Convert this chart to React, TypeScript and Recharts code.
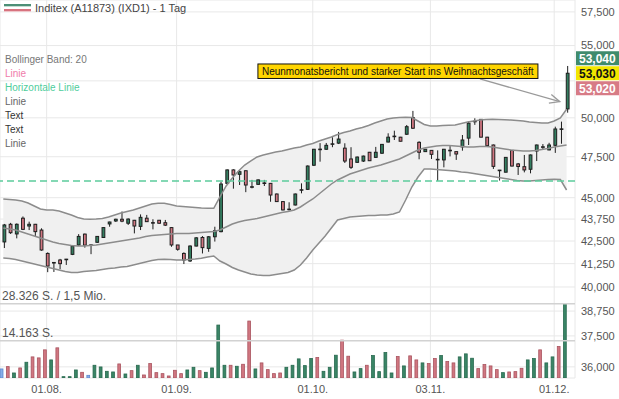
import {
  ComposedChart,
  XAxis,
  YAxis,
  CartesianGrid,
  Bar,
  Area,
  Line,
  ReferenceLine,
} from "recharts";

const FONT = "Arial, 'Liberation Sans', sans-serif";

const tickIdx = [7, 28, 50, 69, 89];
const tickLabels = ["01.08.", "01.09.", "01.10.", "03.11.", "01.12."];
const priceTicks = [57500, 55000, 52500, 50000, 47500, 45000, 43750, 42500, 41250, 40000, 38750, 37500, 36000];
const hiddenTicks = [52500];

const opens = [42450,43450,42900,43800,43350,43450,43120,41810,41290,41450,
  41420,41760,42280,42890,42270,42430,42700,43470,43640,43740,
  43510,43680,43330,43800,43510,43680,43540,43260,42280,41810,
  41400,42220,42700,42090,42740,43030,45860,46680,46410,46630,
  45640,45800,45870,45860,45220,44770,44300,44570,45440,45500,
  46970,47960,47970,48270,48360,48040,47360,47150,47230,47780,
  47460,47720,48430,48780,48740,48930,50010,48410,47820,47900,
  47320,47300,47890,47820,48120,48680,49740,49900,48740,48240,
  46650,46540,47900,47050,46880,46720,47860,48110,47930,48220,
  49260,50590];

const highs = [43470,43530,43500,43900,43600,43470,43220,41870,41310,41510,
  41510,42280,42890,42920,42310,42780,43280,43600,43770,44190,
  43790,43700,44020,43990,43740,43700,43700,43280,42280,41870,
  42260,42720,42780,42780,43310,45960,46710,46720,46680,46640,
  46070,46100,46070,45880,45250,44780,44730,45250,45860,46960,
  47990,48360,48370,48740,49080,48350,48100,47510,47570,47800,
  48120,48300,48990,49160,48760,49530,50460,48480,47990,47920,
  47900,47990,48170,47830,48880,49780,49970,49920,48760,48270,
  46680,47480,47920,47110,47610,47640,48270,48300,48380,49420,
  49750,53540];

const lows = [42110,42900,42650,43120,43120,42780,41960,40790,40800,40950,
  41180,41720,42220,42130,41770,42390,42670,43310,43580,43570,
  43410,42930,43120,43580,43160,43470,43350,42180,41960,41230,
  41340,42200,41810,41900,42470,42990,45820,45540,45760,45330,
  45560,45760,45700,44760,44750,44250,44250,44540,45260,45460,
  46920,47190,47930,48100,48300,47110,46740,47110,47170,47230,
  47420,47670,48400,48560,48470,48880,49270,47340,47800,47360,
  46010,46840,47520,47300,47880,48240,49540,48730,48180,46740,
  46030,46530,46890,46370,46530,46470,47230,47930,47900,47740,
  48320,50340];

const closes = [43410,42970,43450,43160,43450,43030,42000,41120,41300,41250,
  41480,42220,42760,42270,42270,42760,43260,43580,43740,43630,
  43750,43350,43850,43600,43530,43510,43400,42280,42040,41450,
  42220,42680,42130,42740,43080,45820,46680,46370,46570,45760,
  45600,46070,45850,45160,44770,44280,44310,45220,45460,46920,
  47970,47940,48220,48300,48620,47230,46840,47480,47540,47250,
  47780,48280,48740,48790,48480,49420,49320,47780,47970,47650,
  47300,47970,47870,47670,48560,49650,49760,48740,48200,46900,
  46630,47460,46920,46890,46680,47610,48240,48090,48240,49270,
  49240,53030];

const volumes = [3450,4340,1915,3830,6000,8040,7660,10720,6890,11490,
  510,510,3060,2170,1020,4850,4210,2550,2300,5360,
  1530,2810,4850,1150,5490,2040,1660,770,2940,1660,
  3060,4080,2810,2170,3830,20170,4850,4850,4470,5230,
  21700,3450,5750,3190,1660,1915,4080,4850,7280,4720,
  7410,7790,2550,4080,8680,14420,8300,2300,3580,4850,
  8550,2430,9700,1915,8170,4600,8430,6890,5750,5490,
  7410,8550,6260,5750,8040,9190,7530,3580,5110,4600,
  3190,2040,2300,2430,3700,6890,7410,10720,5750,8040,
  12000,28300];

const bbUpper = [44920,44895,44865,44806,44688,44511,44335,44277,44277,44219,
  44102,43986,43841,43754,43737,43754,43783,43870,43986,44102,
  44190,44277,44394,44511,44629,44670,44670,44600,44511,44482,
  44453,44423,44394,44377,44377,45043,45701,46186,46614,46984,
  47234,47483,47608,47703,47797,47860,47956,48051,48114,48241,
  48336,48496,48624,48753,48914,49043,49140,49270,49368,49498,
  49662,49793,49925,49991,50024,50037,50024,49793,49564,49466,
  49466,49498,49511,49531,49629,49727,49793,49859,49892,49905,
  49892,49872,49859,49826,49793,49727,49695,49662,49662,49793,
  49991,50568];

const bbMid = [43238,43181,43124,43010,42897,42784,42671,42559,42447,42363,
  42307,42251,42223,42223,42251,42279,42335,42391,42447,42503,
  42559,42615,42671,42756,42812,42840,42868,42897,42925,42925,
  42925,42953,42982,43010,43039,43124,43295,43466,43581,43667,
  43725,43783,43870,43957,44044,44131,44190,44277,44453,44688,
  44924,45221,45520,45822,46064,46247,46430,46553,46676,46799,
  46892,46984,47109,47234,47358,47546,47734,47924,48051,48114,
  48177,48209,48209,48177,48146,48114,48114,48146,48146,48114,
  48051,47987,47924,47892,47861,47861,47892,47956,48019,48114,
  48177,48241];

const bbLower = [41560,41532,41477,41396,41314,41232,41151,41070,40988,40907,
  40826,40772,40772,40826,40853,40880,40934,40988,41015,41070,
  41097,41178,41260,41341,41423,41477,41488,41477,41450,41450,
  41477,41505,41543,41615,41670,41396,41232,41042,40907,40799,
  40692,40638,40611,40611,40665,40719,40772,40907,41178,41560,
  42001,42391,42784,43238,43696,43783,43870,43899,43928,43957,
  43957,43986,43986,44044,44160,44865,45641,46247,46738,46738,
  46707,46676,46645,46615,46553,46523,46461,46400,46339,46278,
  46217,46156,46094,46034,46004,46004,46034,46064,46094,46106,
  46094,45460];

const hLine = 46000;
const volLevels = [28326, 14163];
const quotes = [53040, 53030, 53020];
const noteText = "Neunmonatsbericht und starker Start ins Weihnachtsgeschäft";
const noteFrom = { x: 77, y: 52630 };
const noteTo = { x: 89.9, y: 51080 };

const legendItems = [
  { text: "Bollinger Band: 20", color: "#777" },
  { text: "Linie", color: "#f07caa" },
  { text: "Horizontale Linie", color: "#4fcd9c" },
  { text: "Linie", color: "#666" },
  { text: "Text", color: "#333" },
  { text: "Text", color: "#333" },
  { text: "Linie", color: "#666" },
];

const GREEN = "#347f61";
const RED = "#d27782";

const data = closes.map((c, i) => {
  const prev = i > 0 ? closes[i - 1] : c;
  return {
    i,
    open: opens[i],
    close: c,
    high: highs[i],
    low: lows[i],
    range: [lows[i], highs[i]],
    vol: volumes[i],
    dir: c === prev ? 0 : c > prev ? 1 : -1,
    band: [bbLower[i], bbUpper[i]],
    upper: bbUpper[i],
    mid: bbMid[i],
    lower: bbLower[i],
  };
});

const Candle = (props: any) => {
  const { x, y, width, height, payload } = props;
  const top = Math.min(y, y + height);
  const h = Math.abs(height);
  const lh = Math.log(payload.high);
  const ll = Math.log(payload.low);
  const py = (p: number) => (lh === ll ? top : top + (h * (lh - Math.log(p))) / (lh - ll));
  const cx = x + width / 2;
  const yo = py(payload.open);
  const yc = py(payload.close);
  const bt = Math.min(yo, yc);
  const bh = Math.abs(yo - yc);
  return (
    <g>
      <line x1={cx} x2={cx} y1={top} y2={top + h} stroke="#1e1e1e" strokeWidth={1} />
      {bh < 1.3 ? (
        <line x1={x - 0.5} x2={x + width + 0.5} y1={bt} y2={bt} stroke="#1e1e1e" strokeWidth={1.6} />
      ) : (
        <rect
          x={x}
          y={bt}
          width={width}
          height={bh}
          fill={payload.close > payload.open ? GREEN : RED}
          stroke="#1e1e1e"
          strokeWidth={1}
        />
      )}
    </g>
  );
};

const VolBar = (props: any) => {
  const { x, y, width, height, payload } = props;
  const fill = payload.dir > 0 ? "#3a8566" : payload.dir < 0 ? "#d07680" : "#86aee8";
  const stroke = payload.dir > 0 ? "#28694f" : payload.dir < 0 ? "#a9545f" : "#5d88cf";
  return <rect x={x} y={y} width={width} height={height} fill={fill} stroke={stroke} strokeWidth={0.8} />;
};

const Badges = (props: any) => {
  const vb = props.viewBox || {};
  const left = vb.x + vb.width + 1;
  const cy = vb.y;
  const styles = [
    { bg: "#3f8b6d", fg: "#fff", off: -15 },
    { bg: "#f2e600", fg: "#111", off: 0 },
    { bg: "#d77b86", fg: "#fff", off: 15 },
  ];
  return (
    <g>
      {quotes.map((q, k) => (
        <g key={k}>
          <rect x={left} y={cy + styles[k].off - 7} width={44} height={14} fill={styles[k].bg} />
          <text
            x={left + 3}
            y={cy + styles[k].off + 4.5}
            fontSize={12}
            fontWeight="bold"
            fontFamily={FONT}
            fill={styles[k].fg}
          >
            {q.toLocaleString("en-US")}
          </text>
        </g>
      ))}
    </g>
  );
};

const Note = (p: any) => {
  const { x1, y1, x2, y2 } = p;
  const ang = Math.atan2(y2 - y1, x2 - x1);
  const L = 11;
  const a = 0.42;
  const b1 = `${x2 - L * Math.cos(ang - a)},${y2 - L * Math.sin(ang - a)}`;
  const b2 = `${x2 - L * Math.cos(ang + a)},${y2 - L * Math.sin(ang + a)}`;
  const bx = x1 - 222;
  const by = y1 - 15;
  return (
    <g>
      <line x1={x1} y1={y1} x2={x2} y2={y2} stroke="#9a9a9a" strokeWidth={1.3} />
      <polyline points={`${b1} ${x2},${y2} ${b2}`} fill="none" stroke="#9a9a9a" strokeWidth={1.3} />
      <rect x={bx} y={by} width={280} height={14.5} fill="#ffd500" stroke="#111" strokeWidth={1} />
      <text x={bx + 4} y={by + 11} fontSize={10} fontFamily={FONT} fill="#111">
        {noteText}
      </text>
    </g>
  );
};

const abs = (top: number, left: number, extra: any = {}) => ({
  position: "absolute" as const,
  top,
  left,
  whiteSpace: "nowrap" as const,
  lineHeight: "14px",
  ...extra,
});

export default function App() {
  return (
    <div style={{ position: "absolute", left: 0, top: 0, width: 619, height: 399, background: "#fff", fontFamily: FONT, overflow: "hidden" }}>
      <ComposedChart
        width={619}
        height={399}
        data={data}
        margin={{ top: 0, right: 0, bottom: 0, left: 0 }}
        style={{ position: "absolute", left: 0, top: 0 }}
      >
        <CartesianGrid yAxisId="price" stroke="#e8e8e8" strokeWidth={1} />
        <XAxis
          dataKey="i"
          type="number"
          domain={[-0.533, 92.36]}
          allowDataOverflow
          ticks={tickIdx}
          interval={0}
          tickFormatter={(v: number) => tickLabels[tickIdx.indexOf(v)] ?? ""}
          tickLine={false}
          axisLine={false}
          tickSize={0}
          tickMargin={7}
          height={21}
          tick={{ fontSize: 11, fill: "#555", fontFamily: FONT }}
        />
        <YAxis
          yAxisId="price"
          orientation="right"
          type="number"
          scale="log"
          domain={[35475, 58409]}
          allowDataOverflow
          ticks={priceTicks}
          interval={0}
          tickFormatter={(v: number) => (hiddenTicks.includes(v) ? "" : v.toLocaleString("en-US"))}
          tickLine={false}
          axisLine={false}
          tickSize={0}
          tickMargin={6}
          width={44}
          tick={{ fontSize: 11, fill: "#555", fontFamily: FONT, textAnchor: "start" }}
        />
        <YAxis yAxisId="vol" hide type="number" domain={[0, 144000]} allowDataOverflow />
        <Area
          yAxisId="price"
          dataKey="band"
          type="linear"
          fill="#f0f0f0"
          fillOpacity={1}
          stroke="none"
          isAnimationActive={false}
          activeDot={false}
        />
        <Line yAxisId="price" dataKey="upper" type="linear" stroke="#8c8c8c" strokeWidth={1.5} dot={false} activeDot={false} isAnimationActive={false} />
        <Line yAxisId="price" dataKey="mid" type="linear" stroke="#8c8c8c" strokeWidth={1.5} dot={false} activeDot={false} isAnimationActive={false} />
        <Line yAxisId="price" dataKey="lower" type="linear" stroke="#8c8c8c" strokeWidth={1.5} dot={false} activeDot={false} isAnimationActive={false} />
        <ReferenceLine yAxisId="price" y={hLine} stroke="#5ccc9c" strokeWidth={1.5} strokeDasharray="7 4" />
        {volLevels.map((v) => (
          <ReferenceLine key={v} yAxisId="vol" y={v} stroke="#d2d2d2" strokeWidth={1.5} />
        ))}
        <Bar yAxisId="vol" dataKey="vol" barSize={5} shape={<VolBar />} isAnimationActive={false} />
        <Bar yAxisId="price" dataKey="range" barSize={5} shape={<Candle />} isAnimationActive={false} />
        <ReferenceLine
          yAxisId="price"
          segment={[noteFrom, noteTo]}
          shape={(p: any) => <Note {...p} />}
        />
        <ReferenceLine
          yAxisId="price"
          y={quotes[1]}
          stroke="none"
          strokeWidth={0}
          label={(p: any) => <Badges {...p} />}
        />
      </ComposedChart>

      <div style={abs(4, 4, { width: 27, height: 2, background: "#4c8f76" })} />
      <div style={abs(6, 4, { width: 27, height: 1, background: "#c3dcd1" })} />
      <div style={abs(9, 4, { width: 27, height: 2, background: "#d7737f" })} />
      <div style={abs(11, 4, { width: 27, height: 1, background: "#f0c6cb" })} />
      <div style={abs(1, 35, { fontSize: 11, color: "#444" })}>Inditex (A11873) (IXD1) - 1 Tag</div>

      {legendItems.map((it, k) => (
        <div key={k} style={abs(53 + k * 14, 5, { fontSize: 10, color: it.color })}>
          {it.text}
        </div>
      ))}

      <div style={abs(289, 2, { fontSize: 12, color: "#555" })}>28.326 S. / 1,5 Mio.</div>
      <div style={abs(326, 2, { fontSize: 12, color: "#555" })}>14.163 S.</div>
    </div>
  );
}
